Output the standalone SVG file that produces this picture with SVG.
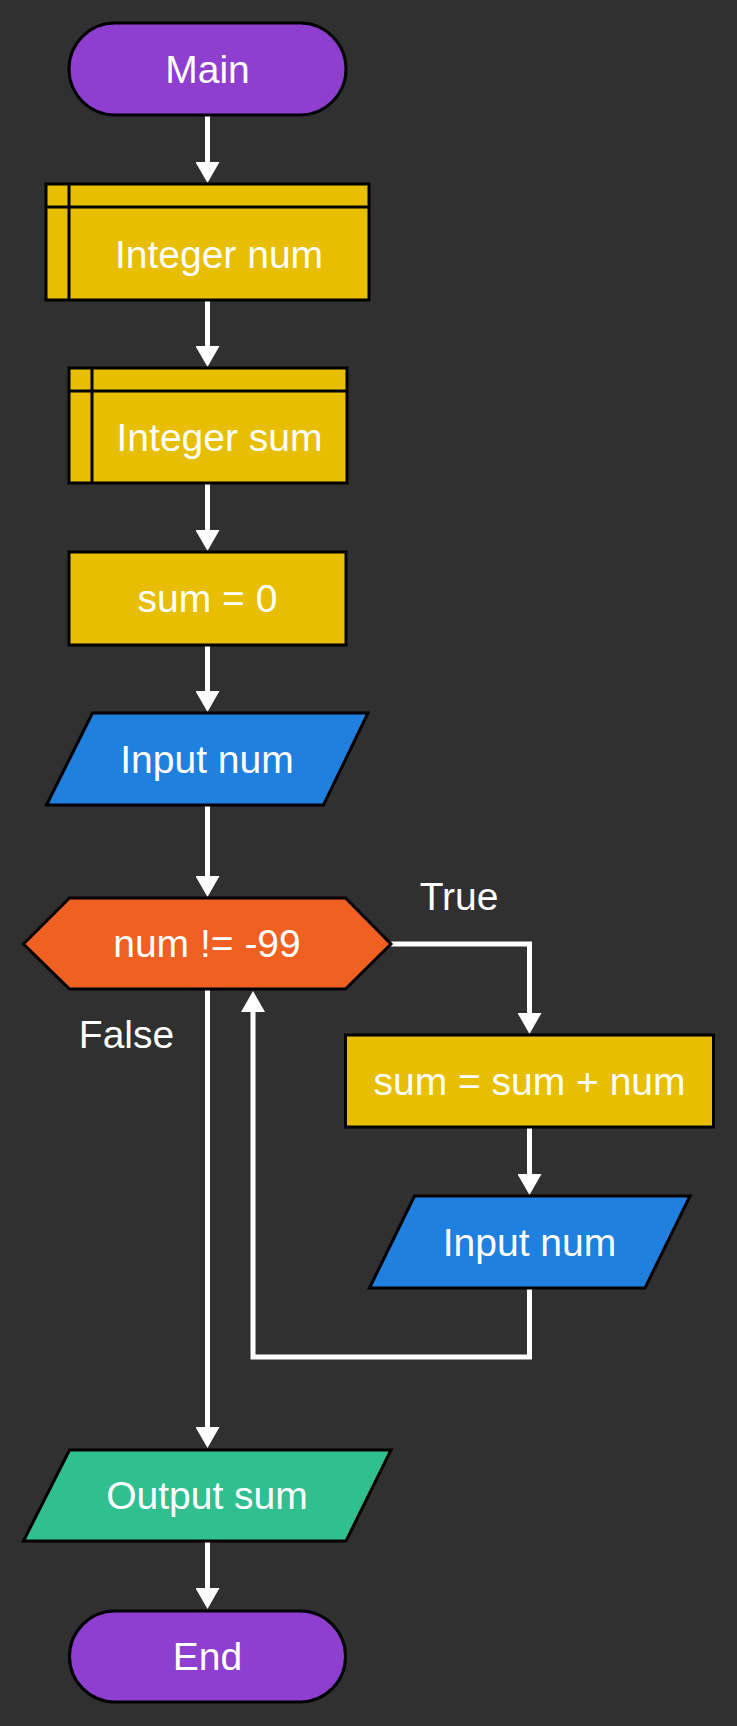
<svg xmlns="http://www.w3.org/2000/svg" width="737" height="1726" viewBox="0 0 737 1726">
<style>
.n{stroke:#000;stroke-width:3;stroke-linejoin:miter}
.t{fill:#fff;font-family:"Liberation Sans",Arial,sans-serif;font-size:39px;text-anchor:middle}
.term{fill:#8f3fd0}
.proc{fill:#e8be00}
.io{fill:#2080e0}
.dec{fill:#f06020}
.out{fill:#30c090}
.c{fill:none;stroke:#fff;stroke-width:5;stroke-linejoin:miter}
</style>
<defs>
<marker id="ah" viewBox="0 0 21 24" refX="0" refY="12" markerWidth="21" markerHeight="24" markerUnits="userSpaceOnUse" orient="auto">
<path d="M0,0 L21,12 L0,24 Z" fill="#fff"/>
</marker>
</defs>
<rect width="737" height="1726" fill="#303030"/>
<g id="connectors">
<path class="c" d="M207.5,115 V162" marker-end="url(#ah)"/>
<path class="c" d="M207.5,300 V346" marker-end="url(#ah)"/>
<path class="c" d="M207.5,483 V530" marker-end="url(#ah)"/>
<path class="c" d="M207.5,645 V691" marker-end="url(#ah)"/>
<path class="c" d="M207.5,805 V876" marker-end="url(#ah)"/>
<path class="c" d="M207.5,989 V1427" marker-end="url(#ah)"/>
<path class="c" d="M207.5,1541 V1588" marker-end="url(#ah)"/>
<path class="c" d="M391,944 H529.5 V1013" marker-end="url(#ah)"/>
<path class="c" d="M529.5,1127 V1174" marker-end="url(#ah)"/>
<path class="c" d="M529.5,1288 V1357 H253 V1012" marker-end="url(#ah)"/>
<text class="t" x="459" y="910">True</text>
<text class="t" x="126.5" y="1048">False</text>
</g>
<g id="main">
<rect class="n term" x="69" y="23" width="277" height="92" rx="46"/>
<text class="t" x="207.5" y="83">Main</text>
</g>
<g id="integer-num">
<rect class="n proc" x="46" y="184" width="323" height="116"/>
<path class="n" d="M69,184 V300 M46,207 H369" fill="none"/>
<text class="t" x="219" y="267.5">Integer num</text>
</g>
<g id="integer-sum">
<rect class="n proc" x="69" y="368" width="278" height="115"/>
<path class="n" d="M92,368 V483 M69,391 H347" fill="none"/>
<text class="t" x="219.5" y="451">Integer sum</text>
</g>
<g id="sum-zero">
<rect class="n proc" x="69" y="552" width="277" height="93"/>
<text class="t" x="207.5" y="612">sum = 0</text>
</g>
<g id="input-num-1">
<polygon class="n io" points="92.5,713 368,713 323.5,805 46.5,805"/>
<text class="t" x="207" y="773">Input num</text>
</g>
<g id="decision">
<polygon class="n dec" points="23.5,944 69.5,898 345.5,898 391,944 345.5,989 69.5,989"/>
<text class="t" x="207" y="957">num != -99</text>
</g>
<g id="sum-add">
<rect class="n proc" x="345.5" y="1035" width="368" height="92"/>
<text class="t" x="529.5" y="1095">sum = sum + num</text>
</g>
<g id="input-num-2">
<polygon class="n io" points="414.5,1196 690,1196 645,1288 369.5,1288"/>
<text class="t" x="529.5" y="1255.5">Input num</text>
</g>
<g id="output-sum">
<polygon class="n out" points="69.5,1450 391,1450 346,1541 23.5,1541"/>
<text class="t" x="207" y="1509">Output sum</text>
</g>
<g id="end">
<rect class="n term" x="69.5" y="1611" width="276" height="91" rx="45.5"/>
<text class="t" x="207.5" y="1670">End</text>
</g>
</svg>
